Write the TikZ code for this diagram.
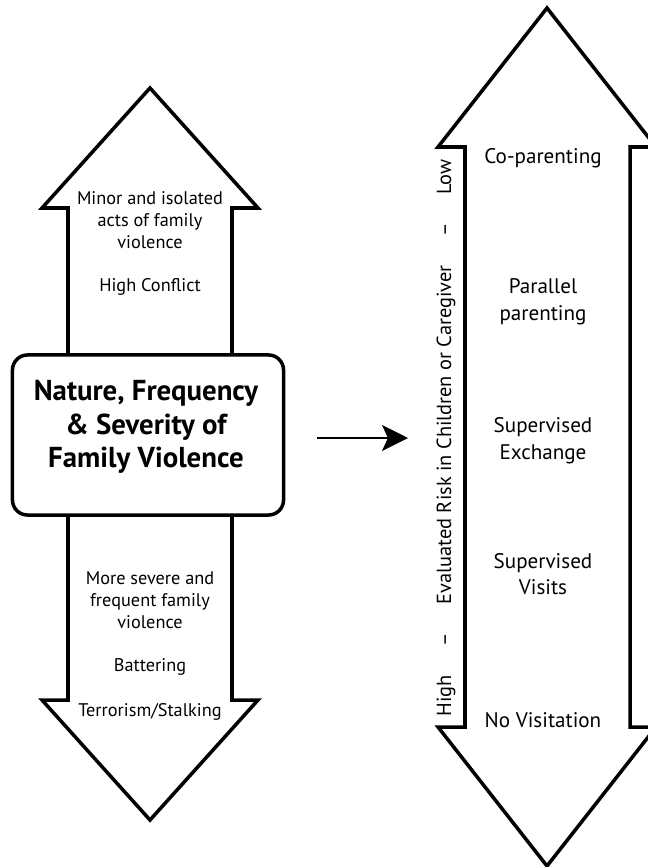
\documentclass[tikz,border=0pt]{standalone}
\usepackage{fontspec}
\setmainfont{PT Sans}
\usetikzlibrary{arrows.meta}
\begin{document}
\begin{tikzpicture}[x=0.025cm,y=-0.025cm]
\tikzset{outline/.style={line width=2.5pt, line join=miter},
  lefttext/.style={align=center, font=\fontsize{13}{15.6}\selectfont},
  righttext/.style={align=center, font=\fontsize{15}{19}\selectfont}}
\useasboundingbox (0,0) rectangle (647,867);

% left arrow
\draw[outline] (68,355) -- (68,208) -- (42,208) -- (150,88) -- (258,208) -- (232,208) -- (232,355);
\draw[outline] (68,515) -- (68,700) -- (42,700) -- (150,820) -- (258,700) -- (232,700) -- (232,515);
\node[draw, line width=2.5pt, rounded corners=0.375cm, minimum width=6.775cm, minimum height=4cm] (fvbox) at (148,435) {};
\node[align=center, font=\bfseries\fontsize{20.5}{24}\selectfont] (fvtitle) at (146,427) {Nature, Frequency\\\& Severity of\\Family Violence};

\node[lefttext] (minor) at (150,220) {Minor and isolated\\acts of family\\violence};
\node[lefttext] (conflict) at (150,287) {High Conflict};
\node[lefttext] (severe) at (150,600) {More severe and\\frequent family\\violence};
\node[lefttext] (battering) at (150,667) {Battering};
\node[lefttext] (terror) at (150,712) {Terrorism/Stalking};

% right arrow
\draw[outline] (465,147) -- (438,147) -- (547,8) -- (656,147) -- (630,147) -- (630,727)
  -- (656,727) -- (547,866) -- (438,727) -- (465,727) -- cycle;

\node[righttext] (copar) at (543,158) {Co-parenting};
\node[righttext] (parallel) at (543,302) {Parallel\\parenting};
\node[righttext] (exchange) at (543,441) {Supervised\\Exchange};
\node[righttext] (visits) at (543,574) {Supervised\\Visits};
\node[righttext] (novisit) at (543,720) {No Visitation};

\node[rotate=90, font=\fontsize{14.5}{16}\selectfont] (risk) at (446,438)
  {High\hspace{1.4em}--\hspace{1.4em}Evaluated Risk in Children or Caregiver\hspace{1.4em}--\hspace{1.4em}Low};

\coordinate (from) at (317,438);
\coordinate (to) at (408,438);
\draw[line width=1.5pt, -{Stealth[length=0.65cm, width=0.65cm, inset=0.15cm]}] (from) -- (to);
\end{tikzpicture}
\end{document}
